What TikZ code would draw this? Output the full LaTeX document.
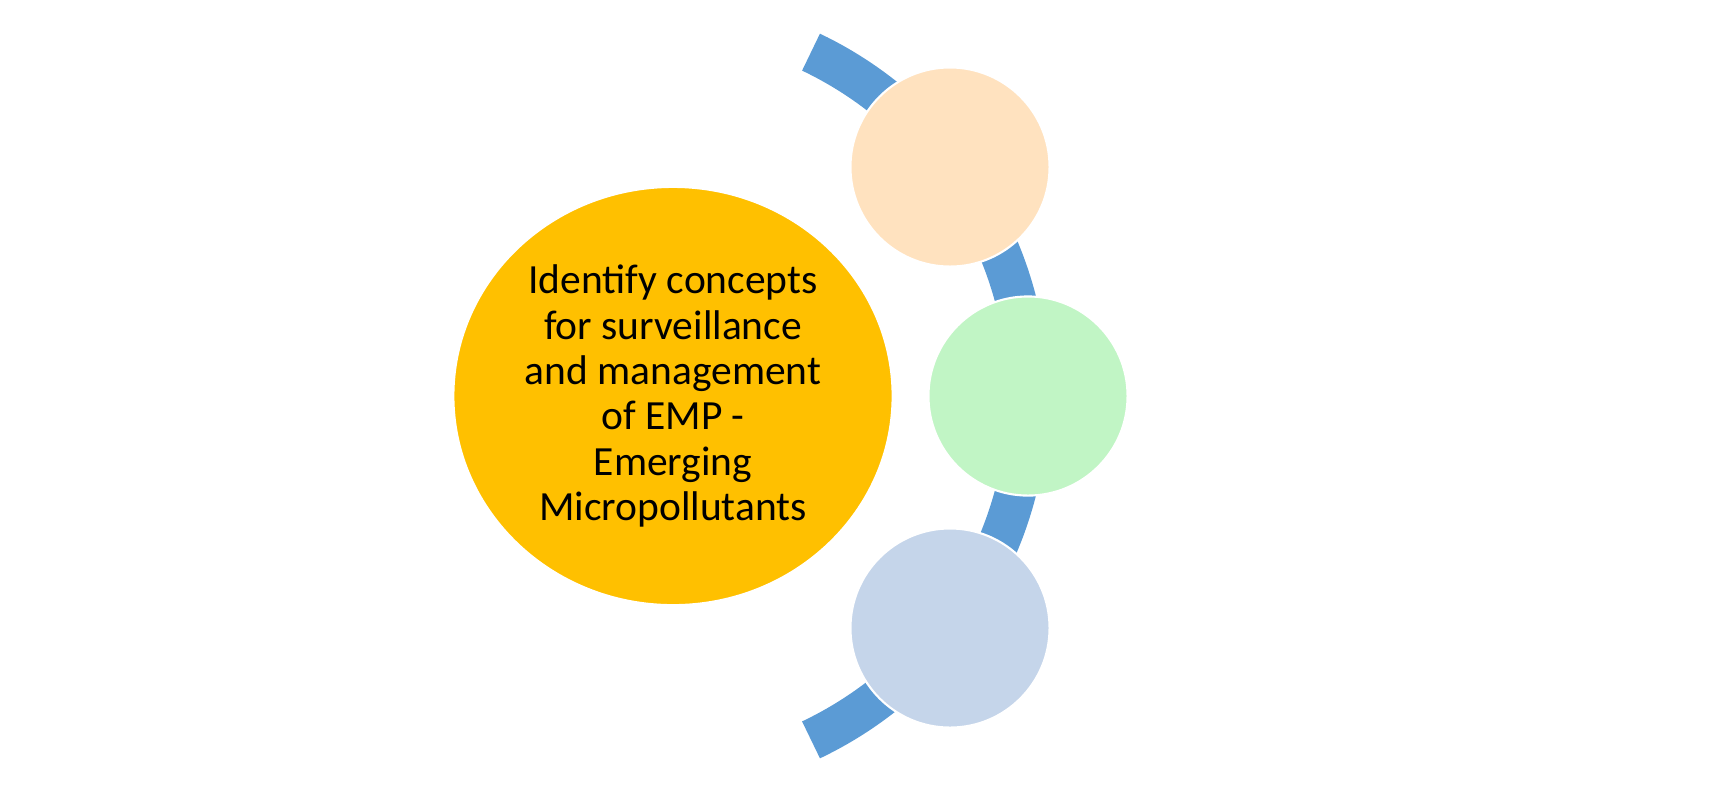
\documentclass[tikz,border=0pt]{standalone}
\usepackage{fontspec}
\setmainfont{Carlito}
\usetikzlibrary{shapes.geometric}
\definecolor{arcblue}{HTML}{5B9BD5}
\definecolor{gold}{HTML}{FFC000}
\definecolor{peach}{HTML}{FFE2BF}
\definecolor{mint}{HTML}{C1F5C5}
\definecolor{steel}{HTML}{C5D5EA}

\begin{document}
\begin{tikzpicture}[x=0.01cm,y=-0.01cm]
        \tikzstyle{every node}=[draw=white, line width=0.6pt, circle, inner sep=0pt, minimum size=1.99cm]
        \useasboundingbox (0,0) rectangle (1725,790);

        % the blue band behind the small circles
        \coordinate(hub)at(647,396);
        \draw[arcblue, line width=0.41cm] (hub) ++(64.5:381) arc[start angle=64.5, end angle=-64.5, radius=381];

        \node[ellipse, fill=gold, minimum width=4.39cm, minimum height=4.18cm, align=center,
            font=\fontsize{11.8}{12.9}\selectfont](main)at(673,396){Identify concepts\\for surveillance\\and management\\of EMP -\\Emerging\\Micropollutants};

        \node[fill=peach](top)at(950,167){};
        \node[fill=mint](mid)at(1028,396){};
        \node[fill=steel](bot)at(950,628){};
    \end{tikzpicture}
\end{document}
